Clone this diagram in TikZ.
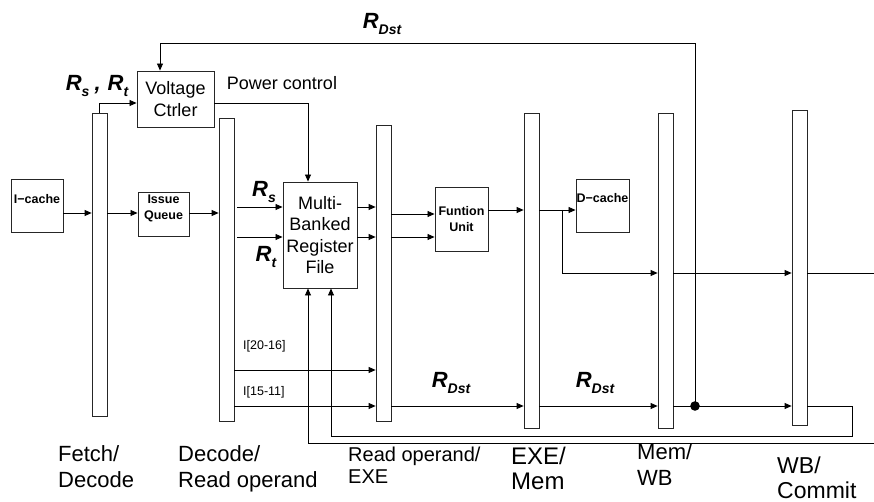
\documentclass[tikz,border=0pt]{standalone}
\usepackage{fontspec}
\setmainfont{Liberation Sans}
\usetikzlibrary{arrows.meta,calc}
\newcommand\Rlab[1]{{\fontsize{22}{24}\selectfont\bfseries\itshape R\raisebox{-0.3em}{\fontsize{14}{15}\selectfont #1}}}
\begin{document}
\begin{tikzpicture}[x=1pt,y=-1pt,
  latch/.style={draw=black!85, line width=0.8pt, minimum width=15pt, inner sep=0pt},
  box/.style={draw=black!85, line width=0.9pt, inner sep=0pt},
  wire/.style={line width=0.8pt},
  arr/.style={wire, -{Triangle[length=7pt,width=6pt]}},
  smallbold/.style={font=\fontsize{12.5}{15.5}\selectfont\bfseries, align=center, inner sep=0pt},
  midtext/.style={font=\fontsize{18}{21.5}\selectfont, align=center, inner sep=0pt},
  stage/.style={align=left, anchor=north west, inner sep=0pt},
  tinylab/.style={font=\fontsize{12.5}{14}\selectfont, anchor=west, inner sep=0pt},
  rlab/.style={inner sep=0pt}]
\useasboundingbox (0,0) rectangle (874,502);
% y levels
\coordinate (y43) at (0,43);
\coordinate (y103) at (0,103);
\coordinate (y207) at (0,207);
\coordinate (y210) at (0,210);
\coordinate (y213) at (0,213);
\coordinate (y214) at (0,214);
\coordinate (y237) at (0,237);
\coordinate (y273) at (0,273);
\coordinate (y370) at (0,370);
\coordinate (y406) at (0,406);
% latches
\node[latch, minimum height=303pt] (L1) at (99.5,264.5) {};
\node[latch, minimum height=303pt] (L2) at (226.5,269.5) {};
\node[latch, minimum height=296pt] (L3) at (383.5,273) {};
\node[latch, minimum height=315pt] (L4) at (531.5,270.5) {};
\node[latch, minimum height=315pt] (L5) at (665.5,270.5) {};
\node[latch, minimum height=315pt] (L6) at (799.5,267.5) {};
% boxes
\node[box, minimum width=52pt, minimum height=53pt] (ic) at (37,205.5) {};
\node[smallbold] (ict) at ($(ic.north)+(0,20)$) {I−cache};
\node[box, minimum width=51pt, minimum height=44pt] (iq) at (163.5,214) {};
\node[smallbold] (iqt) at ($(iq.north)+(0,17)$) {Issue\\Queue};
\node[box, midtext, minimum width=77pt, minimum height=56pt] (vc) at (175.5,99) {Voltage\\Ctrler};
\node[box, midtext, minimum width=74pt, minimum height=106pt] (rf) at (320,235) {Multi-\\Banked\\Register\\File};
\node[box, smallbold, minimum width=53pt, minimum height=64pt] (fu) at (461.5,219) {Funtion\\Unit};
\node[box, minimum width=53pt, minimum height=53pt] (dc) at (602.5,205.5) {};
\node[smallbold] (dct) at ($(dc.north)+(0,19)$) {D−cache};
% connectors
\draw[arr] (ic.east |- y213) -- (L1.west |- y213);
\draw[arr] (L1.east |- y213) -- (iq.west |- y213);
\draw[arr] (iq.east |- y213) -- (L2.west |- y213);
\draw[arr] (L1.north) |- (vc.west |- y103);
\coordinate (dot) at (695,406);
\coordinate (vcin) at ($(vc.north)+(-15.5,0)$);
\draw[arr] (dot) |- (vcin |- y43) -- (vcin);
\coordinate (pcin) at ($(rf.north)+(-12,0)$);
\draw[arr] (vc.east |- y103) -| (pcin);
\draw[arr] ($(L2.east |- y207)+(3,0)$) -- (rf.west |- y207);
\draw[arr] ($(L2.east |- y237)+(3,0)$) -- (rf.west |- y237);
\draw[arr] (rf.east |- y207) -- (L3.west |- y207);
\draw[arr] (rf.east |- y237) -- (L3.west |- y237);
\draw[arr] (L3.east |- y214) -- (fu.west |- y214);
\draw[arr] (L3.east |- y237) -- (fu.west |- y237);
\draw[arr] (fu.east |- y210) -- (L4.west |- y210);
\draw[arr] (L4.east |- y210) -- (dc.west |- y210);
\coordinate (br) at (562,210);
\draw[arr] (br) |- (L5.west |- y273);
\draw[arr] (L5.east |- y273) -- (L6.west |- y273);
\coordinate (outA) at (874,273);
\draw[wire] (L6.east |- y273) -- (outA);
\draw[arr] (L2.east |- y370) -- (L3.west |- y370);
\draw[arr] (L2.east |- y406) -- (L3.west |- y406);
\draw[arr] (L3.east |- y406) -- (L4.west |- y406);
\draw[arr] (L4.east |- y406) -- (L5.west |- y406);
\draw[arr] (L5.east |- y406) -- (L6.west |- y406);
\fill (dot) circle (4.8pt);
\coordinate (rfb1) at ($(rf.south)+(11,0)$);
\coordinate (rfb2) at ($(rf.south)+(-12,0)$);
\coordinate (lp) at (852,436);
\draw[arr] (L6.east |- y406) -| (lp) -| (rfb1);
\coordinate (inB) at (874,443);
\draw[arr] (inB) -| (rfb2);
% labels
\node[rlab] (rdtop) at (382,24) {\Rlab{Dst}};
\node[rlab] (rsrt) at (97,86) {\Rlab{s}\hspace{5pt}{\fontsize{22}{24}\selectfont\bfseries\itshape ,}\hspace{7pt}\Rlab{t}};
\node[rlab] (rs) at (264,192) {\Rlab{s}};
\node[rlab] (rt) at (266,257) {\Rlab{t}};
\node[rlab] (rd1) at (451,383) {\Rlab{Dst}};
\node[rlab] (rd2) at (595,383) {\Rlab{Dst}};
\node[font=\fontsize{18}{20}\selectfont, inner sep=0pt] (pc) at (282,83) {Power control};
\node[tinylab] (i1) at (243,346) {I[20-16]};
\node[tinylab] (i2) at (243,392) {I[15-11]};
\node[stage, font=\fontsize{22}{26}\selectfont] (s1) at (58,445) {Fetch/\\Decode};
\node[stage, font=\fontsize{22}{26}\selectfont] (s2) at (178,445) {Decode/\\Read operand};
\node[stage, font=\fontsize{20}{22}\selectfont] (s3) at (348,447) {Read operand/\\EXE};
\node[stage, font=\fontsize{24}{25}\selectfont] (s4) at (511,447) {EXE/\\Mem};
\node[stage, font=\fontsize{22}{26}\selectfont] (s5) at (637,443) {Mem/\\WB};
\node[stage, font=\fontsize{23}{25}\selectfont] (s6) at (777,457) {WB/\\Commit};
\end{tikzpicture}
\end{document}
